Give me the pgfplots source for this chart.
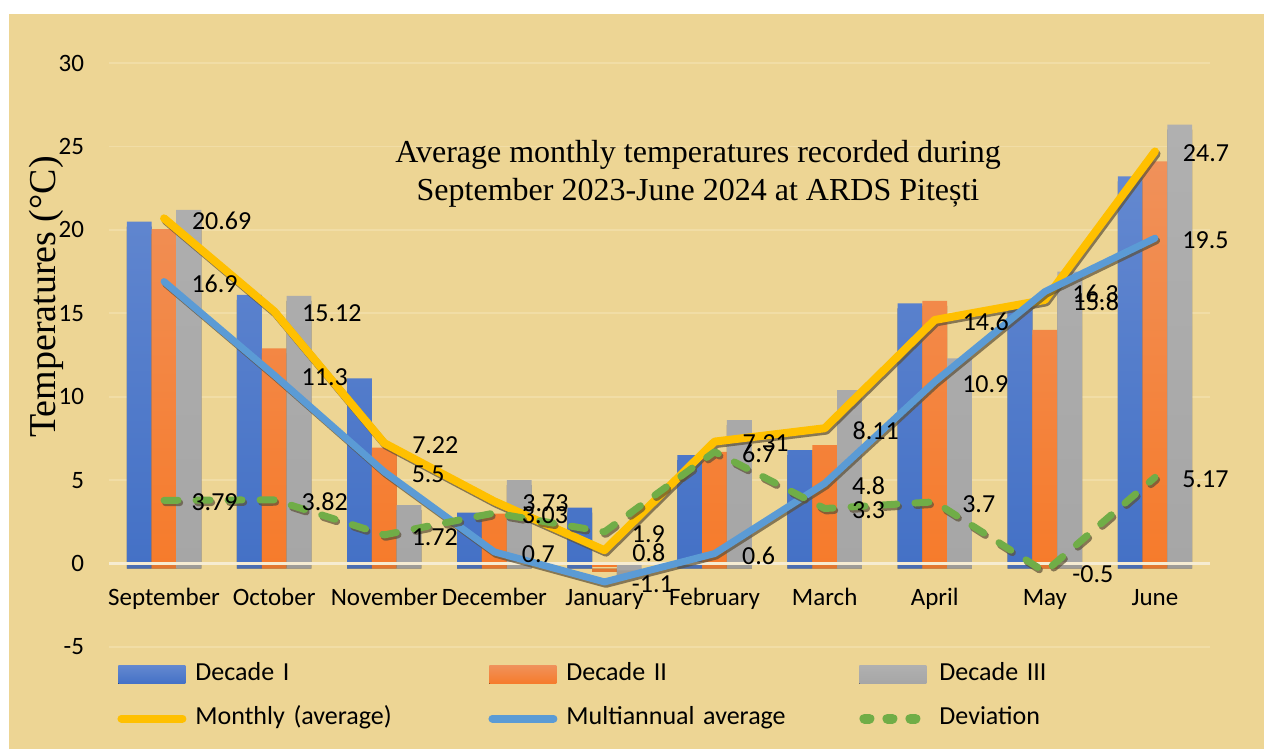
\documentclass[border=0pt]{standalone}
\usepackage{fontspec}
\setmainfont{Carlito}
\newfontfamily\serif{Liberation Serif}
\usepackage{pgfplots}
\pgfplotsset{compat=1.18}
\makeatletter
\tikzset{nopre/.code={\let\tikz@preactions\pgfutil@empty}}
\makeatother
\definecolor{bgc}{HTML}{EDD594}
\definecolor{gridc}{HTML}{F1DDA6}
\definecolor{zeroc}{HTML}{F6ECD2}
\definecolor{d1top}{HTML}{6388D0}
\definecolor{d1bot}{HTML}{4471C6}
\definecolor{d2top}{HTML}{F0915A}
\definecolor{d2bot}{HTML}{F67B2B}
\definecolor{d3top}{HTML}{B0B0B0}
\definecolor{d3bot}{HTML}{A6A6A6}
\definecolor{monc}{HTML}{FFC000}
\definecolor{mulc}{HTML}{5B9BD5}
\definecolor{devc}{HTML}{70AD47}
\definecolor{shadc}{HTML}{5C5038}
\begin{document}
\begin{tikzpicture}[x=1bp,y=1bp]
\path[use as bounding box] (0,0) rectangle (632,374.5);
\fill[bgc] (4.5,0) rectangle (632,367.5);
\begin{axis}[
  at={(54.5bp,51bp)}, anchor=south west,
  scale only axis, width=550.5bp, height=292bp,
  xmin=-0.5, xmax=9.5, ymin=-5, ymax=30,
  xtick={0,...,9},
  xticklabels={September,October,November,December,January,February,March,April,May,June},
  ytick={-5,0,5,10,15,20,25,30},
  axis line style={draw=none},
  major tick length=0pt,
  ymajorgrids, grid style={gridc, line width=0.8bp},
  clip=false,
  /pgf/number format/assume math mode=true,
  ticklabel style={font=\fontsize{12.5bp}{15bp}\selectfont, text=black},
  yticklabel style={anchor=east, xshift=-9bp},
  xticklabel style={anchor=base, yshift=21bp},
  legend columns=3,
  legend style={at={(axis description cs:0.0073,-0.026)}, anchor=north west,
    draw=none, fill=none, inner sep=0pt, row sep=10bp,
    font=\fontsize{13bp}{15bp}\selectfont,
    nodes={inner sep=0pt, text width=146.5bp, align=left, text height=9bp, text depth=3bp},
    /tikz/every odd column/.append style={column sep=4.5bp}},
  nodes near coords style={anchor=west, xshift=12bp, yshift=-1bp, inner sep=0pt,
    font=\fontsize{13bp}{15bp}\selectfont, text=black},
]
% Bars
\addplot[ybar, bar width=12.4bp, bar shift=-12.4bp, draw=none,
  top color=d1top, bottom color=d1bot,
  preaction={fill=shadc, fill opacity=0.85, transform canvas={yshift=-2.5bp}},
  legend image code/.code={\fill[nopre, top color=d1top, bottom color=d1bot] (0bp,-4.5bp) rectangle (33.5bp,4.5bp);}]
  coordinates {(0,20.5) (1,16.1) (2,11.1) (3,3.05) (4,3.35) (5,6.5) (6,6.8) (7,15.6) (8,15.6) (9,23.2)};
\addlegendentry{Decade I}
\addplot[ybar, bar width=12.4bp, bar shift=0bp, draw=none,
  top color=d2top, bottom color=d2bot,
  preaction={fill=shadc, fill opacity=0.85, transform canvas={yshift=-2.5bp}},
  legend image code/.code={\fill[nopre, top color=d2top, bottom color=d2bot] (0bp,-4.5bp) rectangle (33.5bp,4.5bp);}]
  coordinates {(0,20.05) (1,12.9) (2,6.95) (3,3.0) (4,-0.2) (5,6.7) (6,7.1) (7,15.75) (8,14.0) (9,24.1)};
\addlegendentry{Decade II}
\addplot[ybar, bar width=12.4bp, bar shift=12.4bp, draw=none,
  top color=d3top, bottom color=d3bot,
  preaction={fill=shadc, fill opacity=0.85, transform canvas={yshift=-2.5bp}},
  legend image code/.code={\fill[nopre, top color=d3top, bottom color=d3bot] (0bp,-4.5bp) rectangle (33.5bp,4.5bp);}]
  coordinates {(0,21.2) (1,16.05) (2,3.5) (3,5.0) (4,-0.4) (5,8.6) (6,10.4) (7,12.3) (8,17.5) (9,26.3)};
\addlegendentry{Decade III}
% zero line
\addplot[zeroc, line width=1.2bp, forget plot] coordinates {(-0.5,0) (9.5,0)};
% Lines
\addplot[monc, line width=4bp, line cap=round, line join=round,
  preaction={draw=shadc, draw opacity=0.7, transform canvas={xshift=0.8bp,yshift=-1.2bp}},
  nodes near coords, point meta=explicit symbolic,
  legend image code/.code={\draw[nopre, monc, line width=4bp, line cap=round, solid] (1.5bp,0) -- (32bp,0);}]
  coordinates {(0,20.69) [20.69] (1,15.12) [15.12] (2,7.22) [7.22] (3,3.73) [3.73] (4,0.8) [0.8]
   (5,7.31) [7.31] (6,8.11) [8.11] (7,14.6) [14.6] (8,15.8) [15.8] (9,24.7) [24.7]};
\addlegendentry{Monthly (average)}
\addplot[mulc, line width=3.5bp, line cap=round, line join=round,
  preaction={draw=shadc, draw opacity=0.7, transform canvas={xshift=0.8bp,yshift=-1.2bp}},
  nodes near coords, point meta=explicit symbolic,
  legend image code/.code={\draw[nopre, mulc, line width=4bp, line cap=round, solid] (1.5bp,0) -- (32bp,0);}]
  coordinates {(0,16.9) [16.9] (1,11.3) [11.3] (2,5.5) [5.5] (3,0.7) [0.7] (4,-1.1) [-1.1]
   (5,0.6) [0.6] (6,4.8) [4.8] (7,10.9) [10.9] (8,16.3) [16.3] (9,19.5) [19.5]};
\addlegendentry{Multiannual average}
\addplot[devc, line width=3.5bp, line cap=round, line join=round, dash pattern=on 7bp off 9bp,
  preaction={draw=shadc, draw opacity=0.7, transform canvas={xshift=0.8bp,yshift=-1.2bp}},
  nodes near coords, point meta=explicit symbolic,
  legend image code/.code={\draw[nopre, devc, line width=5bp, line cap=round, dash pattern=on 2.5bp off 9bp] (2.5bp,0) -- (33bp,0);}]
  coordinates {(0,3.79) [3.79] (1,3.82) [3.82] (2,1.72) [1.72] (3,3.03) [3.03] (4,1.9) [1.9]
   (5,6.7) [6.7] (6,3.3) [3.3] (7,3.7) [3.7] (8,-0.5) [-0.5] (9,5.17) [5.17]};
\addlegendentry{Deviation}
\end{axis}
\node[font=\serif\fontsize{16bp}{19bp}\selectfont, align=center] at (349bp,287.5bp)
  {Average monthly temperatures recorded during\\September 2023-June 2024 at ARDS Pitești};
\node[font=\serif\fontsize{19bp}{22bp}\selectfont, rotate=90] at (23bp,226bp) {Temperatures (°C)};
\end{tikzpicture}
\end{document}
